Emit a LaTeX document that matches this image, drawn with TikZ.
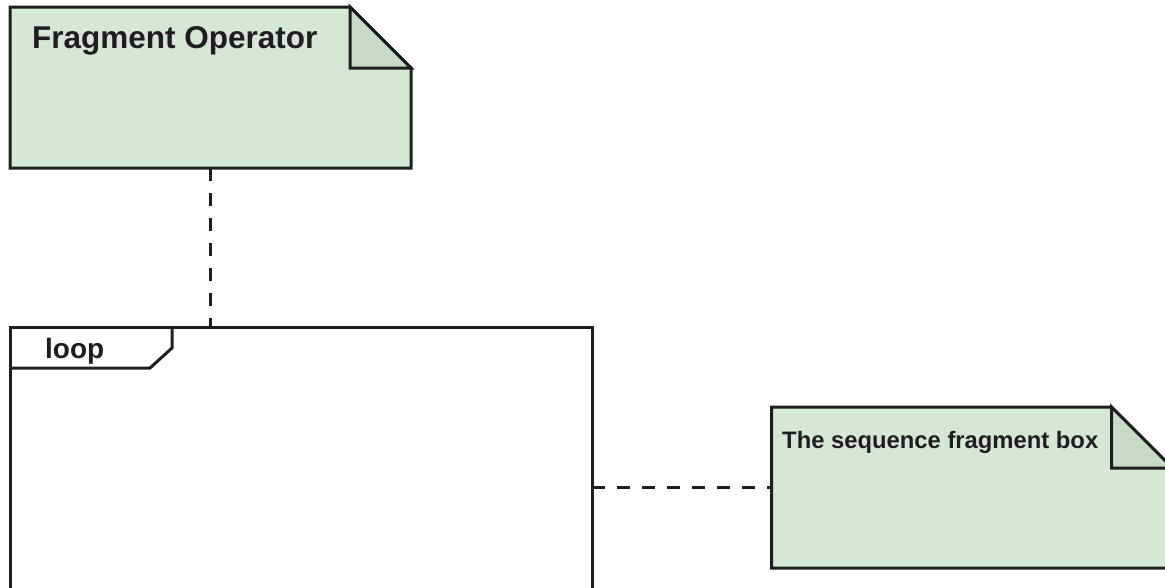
\documentclass[tikz,border=0pt]{standalone}
\usepackage{fontspec}
\setmainfont{Liberation Sans}
\definecolor{notefill}{HTML}{D5E8D4}
\definecolor{notefold}{HTML}{C8DBC6}
\definecolor{ink}{HTML}{1E1E1E}

\begin{document}
\begin{tikzpicture}[x=1pt,y=-1pt,
    area/.style={draw=none,fill=none,inner sep=0pt,outer sep=0pt},
    frameline/.style={ink,line width=3pt},
    link/.style={ink,line width=3pt,dash pattern=on 13pt off 12pt},
    caption/.style={anchor=base west,inner sep=0pt,text=ink}]
  \clip (0,0) rectangle (1165,587);
  \draw
    (210.5,87.5) node[area,minimum width=401pt,minimum height=161pt] (op){}
    (972,487.5) node[area,minimum width=401pt,minimum height=161pt] (box){}
    (301,467) node[area,minimum width=582pt,minimum height=280pt] (loop){};
  % notes
  \draw[frameline,fill=notefill] (op.north west) -- ([xshift=-61pt]op.north east)
    -- ([yshift=-61pt]op.north east) -- (op.south east) -- (op.south west) -- cycle;
  \draw[frameline,fill=notefold] ([xshift=-61pt]op.north east)
    -- ([xshift=-61pt,yshift=-61pt]op.north east) -- ([yshift=-61pt]op.north east) -- cycle;
  \draw[frameline,fill=notefill] (box.north west) -- ([xshift=-61pt]box.north east)
    -- ([yshift=-61pt]box.north east) -- (box.south east) -- (box.south west) -- cycle;
  \draw[frameline,fill=notefold] ([xshift=-61pt]box.north east)
    -- ([xshift=-61pt,yshift=-61pt]box.north east) -- ([yshift=-61pt]box.north east) -- cycle;
  % fragment frame
  \draw[frameline] (loop.south west) rectangle (loop.north east);
  \draw[frameline] ([yshift=-41pt]loop.north west) -- ([xshift=140pt,yshift=-41pt]loop.north west)
    -- ([xshift=162pt,yshift=-21pt]loop.north west) -- ([xshift=162pt]loop.north west);
  \node[caption,font=\bfseries\fontsize{31.5}{38}\selectfont] (optext) at (32,48) {Fragment Operator};
  \node[caption,font=\bfseries\fontsize{23.8}{29}\selectfont] (boxtext) at (782,448) {The sequence fragment box};
  \node[caption,font=\bfseries\fontsize{28}{34}\selectfont] (looptext) at (45,358) {loop};
  \begin{scope}[link]
    \draw (op.south) to (op.south |- loop.north);
    \draw (loop.east |- box.west) to (box.west);
  \end{scope}
\end{tikzpicture}
\end{document}
